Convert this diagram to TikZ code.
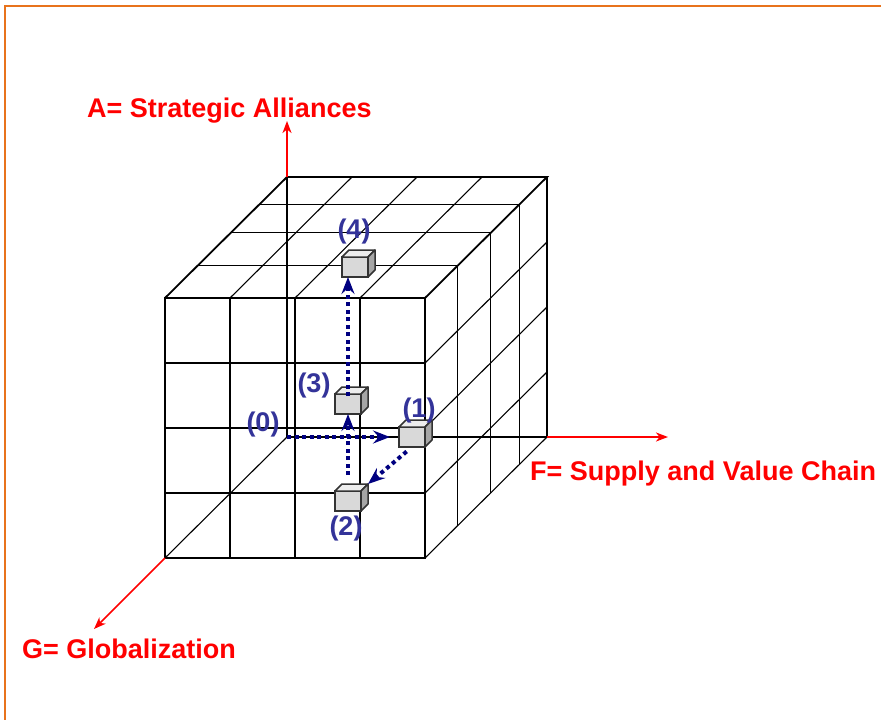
\documentclass[tikz,border=0pt]{standalone}
\usepackage{fontspec}
\setmainfont{Liberation Sans}
\usetikzlibrary{arrows.meta,calc}
\definecolor{axisred}{HTML}{FF0000}
\definecolor{framebrand}{HTML}{E8731C}
\definecolor{tagblue}{HTML}{333399}
\definecolor{movenavy}{HTML}{000080}

\begin{document}
\begin{tikzpicture}[x=1pt, y=-1pt,
  font=\fontsize{27}{32}\selectfont\bfseries,
  gridline/.style={draw=black, line width=1.1pt},
  edge/.style={draw=black, line width=1.8pt, line join=miter},
  axis/.style={-{Stealth[length=12pt,width=9pt,inset=3.5pt]}, draw=axisred, line width=1.7pt},
  axislabel/.style={text=axisred, inner sep=0pt, anchor=base west},
  tag/.style={text=tagblue, inner sep=0pt, anchor=base},
  minibox/.style={draw=black!80, line width=1.5pt, fill=black!15, minimum width=26pt,
    minimum height=20pt, inner sep=0pt, outer sep=0pt},
  boxtop/.style={draw=black!80, line width=1.5pt, fill=black!7, line join=round},
  boxside/.style={draw=black!80, line width=1.5pt, fill=black!35, line join=round},
  move/.style={-{Stealth[length=17pt,width=13pt,inset=6pt]}, draw=movenavy,
    line width=4pt, dash pattern=on 4pt off 3.5pt}
]
\useasboundingbox (0,0) rectangle (881,720);
\fill[white] (0,0) rectangle (881,720);
\draw[framebrand, line width=2.6pt] (5,720) -- (5,6) -- (881,6);

% front face grid
\foreach \i in {1,2,3} {
  \draw[gridline] (165+65*\i,298) -- (165+65*\i,558);
  \draw[gridline] (165,298+65*\i) -- (425,298+65*\i);
}
% top and right face grid
\foreach \f in {0.265,0.54,0.775} {
  \draw[gridline] (165+122*\f,298-121*\f) -- (425+122*\f,298-121*\f) -- (425+122*\f,558-121*\f);
}
\foreach \i in {1,2,3} {
  \draw[gridline] (165+65*\i,298) -- ++(122,-121);
  \draw[gridline] (425,298+65*\i) -- ++(122,-121);
}

% hidden edges meet at the origin
\coordinate (origin) at (287,437);
\coordinate (backtop) at (287,177);
\coordinate (backright) at (547,437);
\coordinate (frontleft) at (165,558);
\draw[edge] (backtop) -- (origin) -- (backright);
\draw[gridline] (frontleft) -- (origin);
\draw[gridline] (425,558) -- (backright);
% outer edges
\draw[edge] (165,298) rectangle (425,558);
\draw[edge] (165,298) -- (backtop) -- (547,177) -- (425,298);
\draw[edge] (547,177) -- (backright);

% axes
\coordinate (atip) at (287,121);
\coordinate (ftip) at (668,437);
\coordinate (gtip) at (94,629);
\draw[axis] (backtop) -- (atip);
\draw[axis] (backright) -- (ftip);
\draw[axis] (frontleft) -- (gtip);
\node[axislabel] (alab) at (87,117) {A= Strategic Alliances};
\node[axislabel] (flab) at (530,480) {F= Supply and Value Chain};
\node[axislabel] (glab) at (22,658) {G= Globalization};

% positions
\node[minibox] (b1) at (412,437) {};
\node[minibox] (b2) at (348,501) {};
\node[minibox] (b3) at (348,404) {};
\node[minibox] (b4) at (355,267) {};
\foreach \b in {b1,b2,b3,b4} {
  \draw[boxtop] (\b.north west) -- ++(7,-7) -- ++(26,0) -- (\b.north east) -- cycle;
  \draw[boxside] (\b.north east) -- ++(7,-7) -- ++(0,20) -- (\b.south east) -- cycle;
}
\node[tag] (t0) at (263,431) {(0)};
\node[tag] (t1) at (419,417) {(1)};
\node[tag] (t2) at (346,535) {(2)};
\node[tag] (t3) at (314,392) {(3)};
\node[tag] (t4) at (354,238) {(4)};

% moves
\draw[move, shorten >=9pt] (origin) -- (b1.west);
\draw[move, shorten <=7pt] (b1.south) -- ($(b2.north east)+(7,-7)$);
\draw[move, shorten <=16pt] (b2.north) -- (b3.south);
\draw[move, shorten <=8pt] (b3.center) -- (b3.center |- b4.south);
\end{tikzpicture}
\end{document}
